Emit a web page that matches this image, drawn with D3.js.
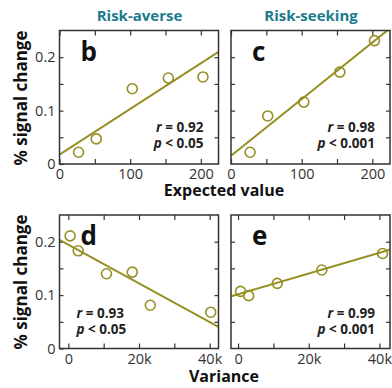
<!DOCTYPE html>
<html>
<head>
<meta charset="utf-8">
<script src="https://cdn.jsdelivr.net/npm/d3@7"></script>
<style>
	body { margin: 0; background: #fff; }
	svg { display: block; font-family: "Open Sans", sans-serif; }
</style>
</head>
<body>
<div id="chart"></div>
<script>
// values
const columnTitles = ["Risk-averse", "Risk-seeking"];
const evX = [27, 52, 103, 154, 203];
const averseEV = [0.022, 0.047, 0.141, 0.161, 0.163];
const seekingEV = [0.022, 0.09, 0.116, 0.172, 0.231];
const averseVarX = [500, 2800, 10800, 18100, 23200, 40300];
const averseVar = [0.211, 0.183, 0.14, 0.143, 0.081, 0.068];
const seekingVarX = [700, 3000, 11100, 23700, 40900];
const seekingVar = [0.107, 0.099, 0.122, 0.147, 0.178];
// fitted lines: [x0, y0, x1, y1]
const fitB = [0, 0.0175, 225, 0.21];
const fitC = [0, 0.0156, 225, 0.254];
const fitD = [-2500, 0.2034, 42500, 0.0405];
const fitE = [-2000, 0.098, 43000, 0.185];
const statsR = ["0.92", "0.98", "0.93", "0.99"];
const statsP = ["0.05", "0.001", "0.05", "0.001"];
const letters = ["b", "c", "d", "e"];
const evTickLabels = [0, 100, 200];
const varTickLabels = [0, 20000, 40000];
const yTickLabels = [0, 0.1, 0.2];

const w = 392;
const h = 388;
const olive = "#968f24";
const teal = "#1b7b8c";
const ink = "#333";

const svg = d3
	.select("#chart")
	.append("svg")
	.attr("width", w)
	.attr("height", h);

const panels = [
	{ xs: evX, ys: averseEV, fit: fitB, xDom: [0, 225], xTicks: d3.range(0, 201, 50), xLabels: evTickLabels, left: 59.5, top: 30.5, statLeft: false },
	{ xs: evX, ys: seekingEV, fit: fitC, xDom: [0, 225], xTicks: d3.range(0, 201, 50), xLabels: evTickLabels, left: 231, top: 30.5, statLeft: false },
	{ xs: averseVarX, ys: averseVar, fit: fitD, xDom: [-2500, 42500], xTicks: d3.range(0, 40001, 10000), xLabels: varTickLabels, left: 59.5, top: 215, statLeft: true },
	{ xs: seekingVarX, ys: seekingVar, fit: fitE, xDom: [-2000, 43000], xTicks: d3.range(0, 40001, 10000), xLabels: varTickLabels, left: 231, top: 215, statLeft: false }
];

const pw = 159;
const ph = 133.5;
const fmtX = (d) => (d >= 1000 ? d / 1000 + "k" : d);

panels.forEach((p, i) => {
	const g = svg.append("g").attr("transform", `translate(${p.left},${p.top})`);
	const x = d3.scaleLinear().domain(p.xDom).range([0, pw]);
	const y = d3.scaleLinear().domain([0, 0.25]).range([ph, 0]);
	const yTicks = [0.05, 0.1, 0.15, 0.2];
	const firstCol = i % 2 === 0;

	const bottom = d3
		.axisBottom(x)
		.tickValues(p.xTicks)
		.tickSize(-5)
		.tickPadding(5)
		.tickFormat((d) => (p.xLabels.includes(d) ? fmtX(d) : ""));
	const top = d3.axisTop(x).tickValues(p.xTicks).tickSize(-5).tickFormat("");
	const left = d3
		.axisLeft(y)
		.tickValues(firstCol ? [0, ...yTicks] : yTicks)
		.tickSize(-4)
		.tickPadding(4)
		.tickFormat((d) => (firstCol && yTickLabels.includes(d) ? d : ""));
	const right = d3.axisRight(y).tickValues(yTicks).tickSize(-4).tickFormat("");

	const axes = [
		g.append("g").attr("transform", `translate(0,${ph})`).call(bottom),
		g.append("g").call(top),
		g.append("g").call(left),
		g.append("g").attr("transform", `translate(${pw},0)`).call(right)
	];
	axes.forEach((a) => {
		a.select(".domain").remove();
		a.selectAll("line").attr("stroke", ink).attr("stroke-width", 1.2);
		a.selectAll("text").filter(function () { return this.textContent === ""; }).remove();
		a.selectAll("text")
			.attr("fill", ink)
			.style("font-family", '"Open Sans", sans-serif')
			.style("font-size", "14.5px");
	});

	g.append("clipPath")
		.attr("id", "clip" + i)
		.append("rect")
		.attr("width", pw)
		.attr("height", ph);

	g.append("line")
		.attr("clip-path", `url(#clip${i})`)
		.attr("x1", x(p.fit[0]))
		.attr("y1", y(p.fit[1]))
		.attr("x2", x(p.fit[2]))
		.attr("y2", y(p.fit[3]))
		.attr("stroke", olive)
		.attr("stroke-width", 2);

	g.selectAll("circle")
		.data(p.xs)
		.enter()
		.append("circle")
		.attr("cx", (d) => x(d))
		.attr("cy", (d, j) => y(p.ys[j]))
		.attr("r", 5)
		.attr("fill", "none")
		.attr("stroke", olive)
		.attr("stroke-width", 1.6);

	g.append("rect")
		.attr("width", pw)
		.attr("height", ph)
		.attr("fill", "none")
		.attr("stroke", ink)
		.attr("stroke-width", 1.5);

	g.append("text")
		.attr("x", 21)
		.attr("y", 30)
		.attr("font-size", 26)
		.attr("font-weight", "bold")
		.attr("fill", "#111")
		.text(letters[i]);

	const sx = p.statLeft ? 17 : pw - 15;
	const anchor = p.statLeft ? "start" : "end";
	const statY = i < 2 ? 101.5 : 102.5;
	const rText = g.append("text")
		.attr("x", sx)
		.attr("y", statY)
		.attr("text-anchor", anchor)
		.attr("font-size", 13.5)
		.attr("font-weight", "bold")
		.attr("fill", "#222");
	rText.append("tspan").attr("font-style", "italic").text("r");
	rText.append("tspan").text(" = " + statsR[i]);
	const pText = g.append("text")
		.attr("x", sx)
		.attr("y", statY + 16)
		.attr("text-anchor", anchor)
		.attr("font-size", 13.5)
		.attr("font-weight", "bold")
		.attr("fill", "#222");
	pText.append("tspan").attr("font-style", "italic").text("p");
	pText.append("tspan").text(" < " + statsP[i]);
});

// column titles
svg.selectAll(".col-title")
	.data(columnTitles)
	.enter()
	.append("text")
	.attr("class", "col-title")
	.attr("x", (d, i) => (i === 0 ? 139.5 : 311))
	.attr("y", 21)
	.attr("text-anchor", "middle")
	.attr("font-size", 15)
	.attr("font-weight", "bold")
	.attr("fill", teal)
	.text((d) => d);

// axis titles
svg.append("text")
	.attr("x", 224)
	.attr("y", 196)
	.attr("text-anchor", "middle")
	.attr("font-size", 16)
	.attr("font-weight", "bold")
	.attr("fill", "#111")
	.text("Expected value");
svg.append("text")
	.attr("x", 224)
	.attr("y", 382)
	.attr("text-anchor", "middle")
	.attr("font-size", 16)
	.attr("font-weight", "bold")
	.attr("fill", "#111")
	.text("Variance");

[98, 282].forEach((cy) => {
	svg.append("text")
		.attr("transform", `translate(27,${cy}) rotate(-90)`)
		.attr("text-anchor", "middle")
		.attr("font-size", 17)
		.attr("font-weight", "bold")
		.attr("fill", "#111")
		.text("% signal change");
});
</script>
</body>
</html>
